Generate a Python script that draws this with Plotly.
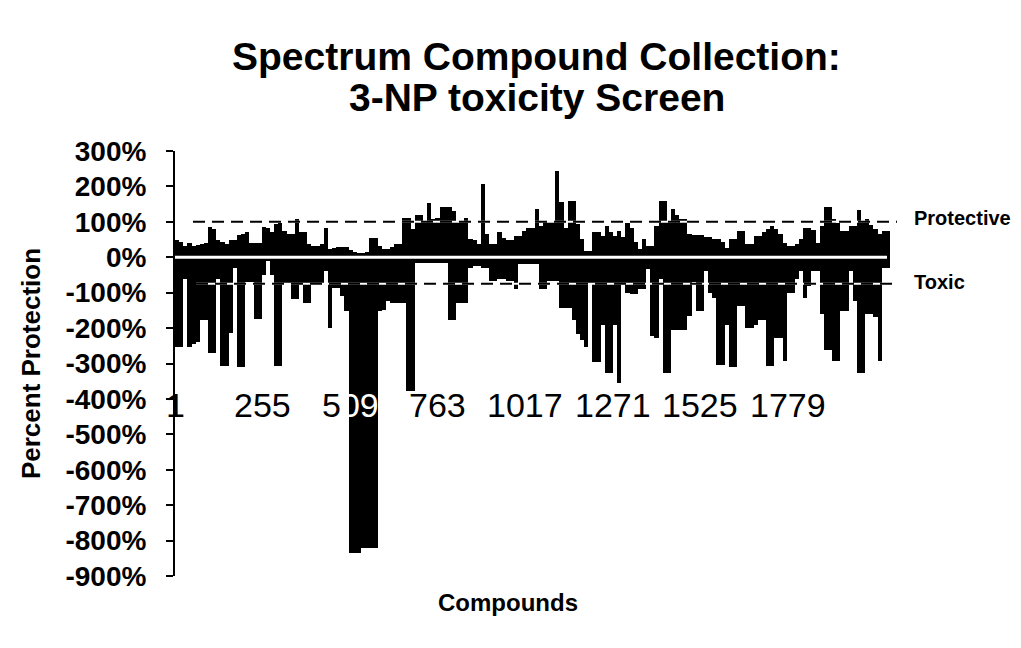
import plotly.graph_objects as go

# ---------------- data ----------------
BIN = 12  # compounds per plotted bin

pos_vals = [
    # compounds 1-420
    48, 44, 32, 39, 32, 35, 37, 41, 86, 80, 48, 44, 37, 48, 48, 62, 67, 70, 39, 40,
    41, 86, 84, 70, 93, 98, 75, 65, 67, 107, 70, 70, 37, 32, 32,
    # 421-840
    37, 82, 23, 27, 28, 29, 29, 20, 16, 11, 11, 16, 54, 54, 32, 23, 23, 29, 37, 37,
    112, 112, 79, 120, 120, 103, 153, 108, 112, 143, 143, 143, 131, 103, 103,
    # 841-1260
    112, 51, 48, 37, 207, 65, 37, 37, 72, 54, 48, 48, 60, 60, 75, 84, 84, 136, 89, 99,
    99, 99, 244, 156, 82, 159, 159, 93, 51, 17, 17, 70, 70, 60, 88,
    # 1261-1680
    70, 60, 75, 57, 98, 84, 42, 23, 51, 32, 32, 89, 160, 160, 103, 136, 120, 108, 108, 65,
    63, 63, 63, 56, 56, 51, 51, 42, 27, 51, 51, 75, 75, 37, 37,
    # 1681-2076
    60, 60, 70, 79, 89, 80, 65, 40, 32, 32, 37, 51, 84, 84, 76, 40, 89, 143, 143, 108,
    98, 75, 75, 89, 89, 134, 103, 108, 90, 79, 65, 75, 75,
]

neg_vals = [
    -252, -252, -60, -252, -245, -238, -176, -176, -270, -270, -60, -308, -308, -215, -30,
    -310, -310, -70, -70, -174, -174, -50, -10, -50, -306, -306, -72, -72, -118, -118,
    -72, -128, -128, -72, -72,
    -72, -40, -199, -86, -86, -110, -152, -836, -836, -836, -822, -822, -822, -822, -152,
    -149, -124, -128, -128, -128, -128, -379, -379, -15, -15, -15, -15, -15, -15, -15,
    -15, -176, -176, -128, -128,
    -128, -29, -25, -25, -29, -29, -67, -67, -62, -62, -67, -67, -91, -20, -20,
    -20, -20, -20, -91, -91, -67, -67, -67, -142, -142, -142, -176, -218, -235, -252,
    -76, -297, -297, -190, -326,
    -326, -190, -354, -76, -100, -105, -105, -91, -91, -34, -223, -228, -60, -326, -326,
    -204, -204, -204, -204, -166, -70, -152, -152, -39, -100, -114, -303, -303, -190, -311,
    -311, -138, -138, -199, -199,
    -190, -176, -176, -308, -308, -228, -228, -294, -100, -100, -60, -40, -114, -80, -40,
    -40, -161, -261, -261, -294, -294, -152, -152, -40, -124, -327, -327, -161, -161, -170,
    -294, -30, -30,
]

x_tick_vals = [1, 255, 509, 763, 1017, 1271, 1525, 1779]
# "509" sits over the big black block: the part over the block is shown white
x_tick_text = ["1", "255", "5<span style='color:white'>09</span>", "763", "1017", "1271", "1525", "1779"]
y_tick_vals = list(range(-900, 301, 100))
y_tick_text = [f"<b>{v}%</b>" for v in y_tick_vals]

protective_level = 100
toxic_level = -75

title_lines = ["Spectrum Compound Collection:", "3-NP toxicity Screen"]
y_title = "Percent Protection"
x_title = "Compounds"

# ---------------- figure ----------------
FONT = "Liberation Sans, Arial, sans-serif"
n_bins = len(pos_vals)
centers = [BIN * k + BIN / 2 + 0.5 for k in range(n_bins)]
x_max = BIN * n_bins + 0.5

fig = go.Figure()
fig.add_trace(go.Bar(x=centers, y=pos_vals, width=BIN, marker=dict(color="black", line=dict(width=0)),
                     showlegend=False, hoverinfo="skip"))
fig.add_trace(go.Bar(x=centers, y=neg_vals, width=BIN, marker=dict(color="black", line=dict(width=0)),
                     showlegend=False, hoverinfo="skip"))

shapes = []
# zero line (white)
shapes.append(dict(type="line", xref="paper", yref="y", x0=0, x1=0.9958, y0=0, y1=0,
                   line=dict(color="white", width=3)))
# threshold lines: white underneath so gaps show white on black bars, black dashes on top
for lvl, x0, x1 in [(protective_level, 0.0252, 1.0098), (toxic_level, 0.0294, 1.007)]:
    shapes.append(dict(type="line", xref="paper", yref="y", x0=x0, x1=x1, y0=lvl, y1=lvl,
                       line=dict(color="white", width=2)))
    shapes.append(dict(type="line", xref="paper", yref="y", x0=x0, x1=x1, y0=lvl, y1=lvl,
                       line=dict(color="black", width=2, dash="12px,7px")))

annotations = []
for xv, xt in zip(x_tick_vals, x_tick_text):
    annotations.append(dict(x=xv, y=-418, xref="x", yref="y", text=xt, showarrow=False,
                            xanchor="center", yanchor="middle",
                            font=dict(family=FONT, size=34, color="black")))
annotations.append(dict(x=0.5056, y=1.2212, xref="paper", yref="paper", text=f"<b>{title_lines[0]}</b>",
                        showarrow=False, xanchor="center", yanchor="middle",
                        font=dict(family=FONT, size=39, color="black")))
annotations.append(dict(x=0.5056, y=1.127, xref="paper", yref="paper", text=f"<b>{title_lines[1]}</b>",
                        showarrow=False, xanchor="center", yanchor="middle",
                        font=dict(family=FONT, size=39, color="black")))
annotations.append(dict(x=-0.2014, y=0.501, xref="paper", yref="paper", text=f"<b>{y_title}</b>",
                        textangle=-90, showarrow=False, xanchor="center", yanchor="middle",
                        font=dict(family=FONT, size=26, color="black")))
annotations.append(dict(x=0.4657, y=-0.0635, xref="paper", yref="paper", text=f"<b>{x_title}</b>",
                        showarrow=False, xanchor="center", yanchor="middle",
                        font=dict(family=FONT, size=24, color="black")))
annotations.append(dict(x=1.0308, y=110, xref="paper", yref="y", text="<b>Protective</b>",
                        showarrow=False, xanchor="left", yanchor="middle",
                        font=dict(family=FONT, size=20, color="black")))
annotations.append(dict(x=1.0308, y=-70, xref="paper", yref="y", text="<b>Toxic</b>",
                        showarrow=False, xanchor="left", yanchor="middle",
                        font=dict(family=FONT, size=20, color="black")))

# the page body adds an 8 px offset; margins compensate so the plot area lands where the reference has it
fig.update_layout(
    width=1021, height=648,
    margin=dict(l=167, r=139, t=143, b=80),
    paper_bgcolor="white", plot_bgcolor="white",
    barmode="overlay", bargap=0,
    shapes=shapes, annotations=annotations,
    xaxis=dict(range=[0.5, x_max], showgrid=False, zeroline=False, showline=False,
               showticklabels=False, ticks=""),
    yaxis=dict(range=[-900, 300], tickvals=y_tick_vals, ticktext=y_tick_text,
               showgrid=False, zeroline=False, showline=True, linecolor="black", linewidth=2,
               ticks="outside", ticklen=7, tickwidth=2, tickcolor="black",
               ticklabelstandoff=14,
               tickfont=dict(family=FONT, size=28, color="black")),
    font=dict(family=FONT, color="black"),
)

fig.write_html("out.html")
